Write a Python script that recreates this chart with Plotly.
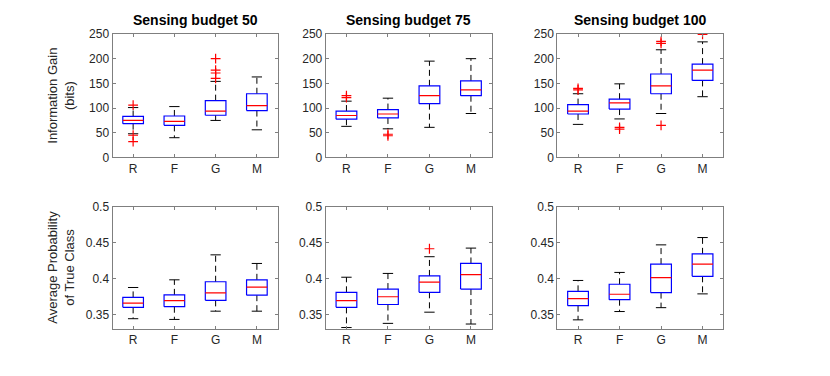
import plotly.graph_objects as go

CATS = ["R", "F", "G", "M"]
BUDGETS = [50, 75, 100]

# information gain (bits): per budget, per category
IG_LOWER = [[48, 40, 75, 56], [63, 58, 61, 89], [67, 78, 89, 123]]
IG_Q1 = [[68.5, 65, 85.5, 95], [77.5, 80, 109, 125], [88, 98, 129, 156]]
IG_MED = [[75, 73, 94, 105], [85, 88, 125, 137], [94, 110.5, 145, 177]]
IG_Q3 = [[83, 84, 115, 129], [94, 97, 145, 155], [107, 118, 169, 189]]
IG_UPPER = [[101, 103, 154, 163], [114, 120, 195, 200], [129, 149, 218, 234]]
IG_OUT = [
    [[106, 45, 32], [], [200, 177, 171, 160], []],
    [[125, 121], [47, 44], [], []],
    [[140, 137], [61, 57.5], [235, 231, 65], [249]],
]

# average probability of true class
AP_LOWER = [[0.344, 0.343, 0.3545, 0.3545], [0.3317, 0.3375, 0.3531, 0.3366], [0.3424, 0.354, 0.3594, 0.3786]]
AP_Q1 = [[0.3598, 0.3607, 0.3696, 0.3768], [0.3598, 0.3638, 0.3808, 0.3853], [0.3621, 0.3705, 0.3804, 0.4031]]
AP_MED = [[0.3656, 0.3692, 0.3799, 0.3879], [0.3692, 0.3746, 0.3951, 0.4054], [0.3719, 0.3781, 0.4013, 0.4201]]
AP_Q3 = [[0.3737, 0.3772, 0.3955, 0.3982], [0.3808, 0.3853, 0.4036, 0.421], [0.3821, 0.392, 0.4201, 0.4344]]
AP_UPPER = [[0.3875, 0.3982, 0.433, 0.421], [0.4018, 0.4071, 0.4304, 0.4424], [0.3973, 0.4085, 0.4469, 0.4571]]
AP_OUT = [[[], [], [], []], [[], [], [0.4415], []], [[], [], [], []]]

FONT = "Liberation Sans, Arial, sans-serif"
TXT = "#262626"

X_DOMAINS = [(112.5, 277.5), (325.7, 491.7), (557.3, 723.3)]
Y_DOMAINS = [(28.0, 156.3), (207.5, 334.2)]
W, H = 830, 376

fig = go.Figure()


def add_panel(ax, lower, q1, med, q3, upper, outs):
    xa = "x" + ("" if ax == 1 else str(ax))
    ya = "y" + ("" if ax == 1 else str(ax))
    bx, by, mx, my, wx, wy, cx, cy, ox, oy = [], [], [], [], [], [], [], [], [], []
    for i in range(len(CATS)):
        x = i + 1
        bx += [x - 0.25, x + 0.25, x + 0.25, x - 0.25, x - 0.25, None]
        by += [q1[i], q1[i], q3[i], q3[i], q1[i], None]
        mx += [x - 0.25, x + 0.25, None]
        my += [med[i], med[i], None]
        wx += [x, x, None, x, x, None]
        wy += [q3[i], upper[i], None, q1[i], lower[i], None]
        cx += [x - 0.125, x + 0.125, None, x - 0.125, x + 0.125, None]
        cy += [upper[i], upper[i], None, lower[i], lower[i], None]
        for v in outs[i]:
            ox.append(x)
            oy.append(v)
    common = dict(xaxis=xa, yaxis=ya, showlegend=False, hoverinfo="skip")
    fig.add_trace(go.Scatter(x=wx, y=wy, mode="lines",
                             line=dict(color="black", width=1, dash="6px,4px"), **common))
    fig.add_trace(go.Scatter(x=cx, y=cy, mode="lines",
                             line=dict(color="black", width=1), **common))
    fig.add_trace(go.Scatter(x=bx, y=by, mode="lines",
                             line=dict(color="#0000ff", width=1.2), **common))
    fig.add_trace(go.Scatter(x=mx, y=my, mode="lines",
                             line=dict(color="#ff0000", width=1.2), **common))
    if ox:
        fig.add_trace(go.Scatter(x=ox, y=oy, mode="markers",
                                 marker=dict(symbol="cross-thin", size=7,
                                             line=dict(color="#ff0000", width=1.2)),
                                 **common))


for b in range(3):
    add_panel(b + 1, IG_LOWER[b], IG_Q1[b], IG_MED[b], IG_Q3[b], IG_UPPER[b], IG_OUT[b])
for b in range(3):
    add_panel(b + 4, AP_LOWER[b], AP_Q1[b], AP_MED[b], AP_Q3[b], AP_UPPER[b], AP_OUT[b])

layout = dict(
    width=W, height=H,
    margin=dict(l=0, r=0, t=0, b=0),
    paper_bgcolor="white", plot_bgcolor="white",
    font=dict(family=FONT, size=12, color=TXT),
    annotations=[],
)

for ax in range(1, 7):
    row = 0 if ax <= 3 else 1
    col = (ax - 1) % 3
    xd = X_DOMAINS[col]
    yd = Y_DOMAINS[row]
    sfx = "" if ax == 1 else str(ax)
    axis_common = dict(showline=True, linecolor="#7f7f7f", linewidth=1, mirror="ticks",
                       ticks="inside", ticklen=3, tickcolor="#7f7f7f", showgrid=False,
                       zeroline=False, tickfont=dict(family=FONT, size=12, color=TXT))
    layout["xaxis" + sfx] = dict(
        domain=[xd[0] / W, xd[1] / W], anchor="y" + sfx, range=[0.5, 4.5],
        tickvals=[1, 2, 3, 4], ticktext=CATS, **axis_common)
    if row == 0:
        yextra = dict(range=[0, 250], tickvals=[0, 50, 100, 150, 200, 250])
    else:
        yextra = dict(range=[0.33, 0.5], tickvals=[0.35, 0.4, 0.45, 0.5],
                      ticktext=["0.35", "0.4", "0.45", "0.5"])
    layout["yaxis" + sfx] = dict(
        domain=[1 - yd[1] / H, 1 - yd[0] / H], anchor="x" + sfx, **yextra, **axis_common)

for b in range(3):
    xd = X_DOMAINS[b]
    layout["annotations"].append(dict(
        text="<b>Sensing budget %d</b>" % BUDGETS[b], xref="paper", yref="paper",
        x=(xd[0] + xd[1]) / 2 / W, y=1 - 13 / H, showarrow=False,
        font=dict(family=FONT, size=14, color="black"), xanchor="center", yanchor="middle"))

layout["annotations"].append(dict(
    text="Information Gain<br>(bits)", xref="paper", yref="paper",
    x=61 / W, y=1 - (Y_DOMAINS[0][0] + Y_DOMAINS[0][1]) / 2 / H, textangle=-90,
    showarrow=False, font=dict(family=FONT, size=13, color=TXT),
    xanchor="center", yanchor="middle"))
layout["annotations"].append(dict(
    text="Average Probability<br>of True Class", xref="paper", yref="paper",
    x=61 / W, y=1 - (Y_DOMAINS[1][0] + Y_DOMAINS[1][1]) / 2 / H, textangle=-90,
    showarrow=False, font=dict(family=FONT, size=13, color=TXT),
    xanchor="center", yanchor="middle"))

fig.update_layout(**layout)
# page body margin would push the 830x376 figure out of the window
fig.write_html("out.html", config={"displayModeBar": False},
               post_script="document.body.style.margin='0';")
